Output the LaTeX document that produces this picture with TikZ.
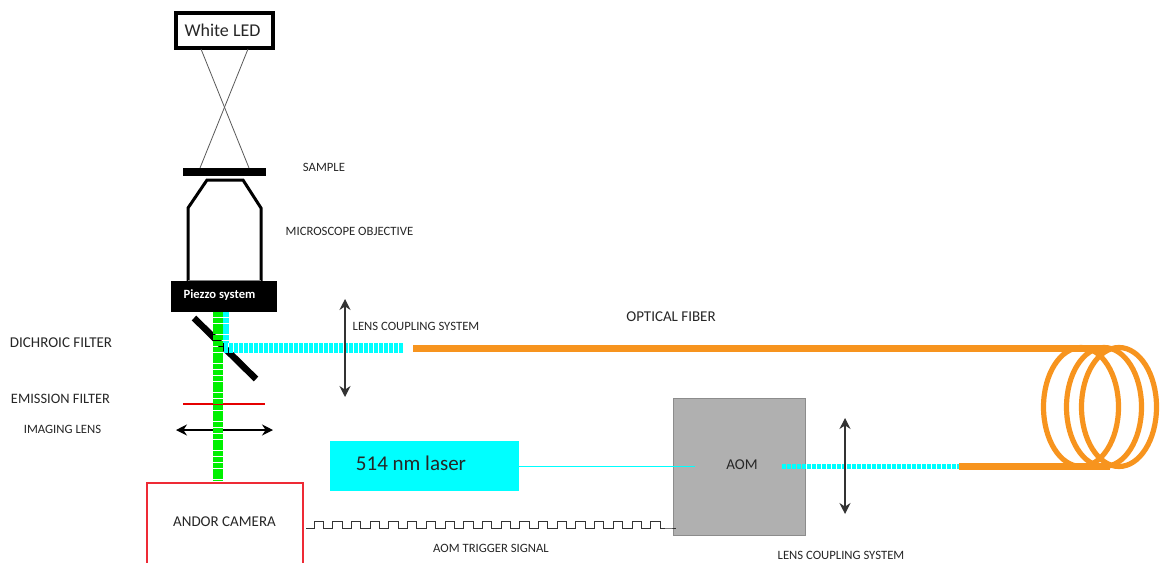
\documentclass[tikz,border=0pt]{standalone}
\usepackage{fontspec}
\setmainfont{Carlito}
\usepackage{xcolor}
\usetikzlibrary{arrows.meta,positioning}
\definecolor{fiberorange}{HTML}{F7941E}
\definecolor{beamcyan}{HTML}{00FFFF}
\definecolor{beamgreen}{HTML}{00F000}
\definecolor{camerared}{HTML}{EE2A35}
\definecolor{aomgray}{HTML}{B0B0B0}

\begin{document}
\begin{tikzpicture}[
  x=1pt, y=-1pt,
  tag/.style={text=black!85, inner sep=0pt, font=\fontsize{12.7}{14}\selectfont},
  bigtag/.style={tag, font=\fontsize{15}{17}\selectfont},
  solidbox/.style={fill=black, inner sep=0pt},
  greenbeam/.style={draw=beamgreen, line width=10pt, dash pattern=on 5pt off 0.8pt},
  cyanbeam/.style={draw=beamcyan, line width=10pt, dash pattern=on 3.9pt off 1.1pt},
  thinbeam/.style={draw=beamcyan, line width=5pt, dash pattern=on 3.9pt off 1.1pt},
  fiber/.style={draw=fiberorange, line width=7pt},
  coil/.style={draw=fiberorange, line width=5.2pt},
  lens/.style={{Stealth[length=11pt,width=11pt]}-{Stealth[length=11pt,width=11pt]}, line width=1.2pt, draw=black!80}
]
\clip (0,0) rectangle (1161,562);

% illumination
\node[draw, line width=3.5pt, minimum width=97pt, minimum height=35pt, inner sep=0pt, font=\fontsize{18}{20}\selectfont, text=black!85] (led) at (224.5,30.5) {\hspace*{-4pt}White LED};
\node[solidbox, minimum width=83pt, minimum height=8pt] (sample) at (224.5,172) {};
\coordinate (ledl) at (201,49);
\coordinate (ledr) at (248,49);
\coordinate (samplel) at (200,168);
\coordinate (sampler) at (249,168);
\draw[black!65, line width=0.8pt] (ledl) -- (sampler);
\draw[black!65, line width=0.8pt] (ledr) -- (samplel);

% objective and piezzo
\draw[line width=3pt, join=miter] (188,282) -- (188,208) -- (207,180) -- (243,180) -- (261,208) -- (261,282);
\draw[black!50, line width=0.8pt] (188,280) -- (261,280);
\node[solidbox, minimum width=106pt, minimum height=31pt, text=white, font=\bfseries\fontsize{12.6}{14}\selectfont] (piezzo) at (224,296.5) {\raisebox{5pt}{\hspace*{-9pt}Piezzo system}};

% filters and lens
\coordinate (mirrora) at (194,318);
\coordinate (mirrorb) at (256,379);
\draw[line width=6.5pt] (mirrora) -- (mirrorb);
\coordinate (redl) at (183,403.5);
\coordinate (redr) at (265,403.5);
\draw[draw=red!90!black, line width=2pt] (redl) -- (redr);
\coordinate (imagel) at (176,430);
\coordinate (imager) at (273,430);
\draw[lens, black] (imagel) -- (imager);

% camera, cut by the page edge
\node[draw=camerared, line width=1.4pt, minimum width=156pt, minimum height=96pt, inner sep=0pt] (camera) at (225,531) {};
\node[bigtag] (cameratext) at (224.5,522) {ANDOR CAMERA};

% beams in the microscope
\coordinate (greentop) at (218,312);
\coordinate (greenend) at (218,481);
\draw[greenbeam] (greentop) -- (greenend);
\coordinate (cyantop) at (226,312);
\coordinate (cyanturn) at (226,343);
\draw[draw=beamcyan, line width=6pt, dash pattern=on 5pt off 0.8pt] (cyantop) -- (cyanturn);
\coordinate (cyanstart) at (224,348);
\coordinate (cyanend) at (403,348);
\draw[cyanbeam] (cyanstart) -- (cyanend);

% coupling lens, upper
\coordinate (lensatop) at (345,299);
\coordinate (lensabot) at (345,397);
\draw[lens] (lensatop) -- (lensabot);

% laser and AOM
\node[fill=beamcyan, minimum width=189pt, minimum height=50pt, inner sep=0pt] (laser) at (424.5,466) {};
\node[inner sep=0pt, text=black!85, font=\fontsize{21}{23}\selectfont] (lasertext) at (411,463) {514 nm laser};
\node[draw=black!45, fill=aomgray, line width=0.8pt, minimum width=132pt, minimum height=137pt, inner sep=0pt] (aom) at (739,466.5) {};
\node[bigtag] (aomtext) at (742,465) {AOM};
\coordinate (aomin) at (695,466);
\coordinate (aomout) at (782,466);
\coordinate (fiberin) at (959,466);
\draw[beamcyan, line width=1pt] (laser) -- (aomin);
\draw[thinbeam] (aomout) -- (fiberin);
\coordinate (lensbtop) at (845,418);
\coordinate (lensbbot) at (845,514);
\draw[lens] (lensbtop) -- (lensbbot);

% fiber
\coordinate (fibertop) at (413,348);
\coordinate (fibertopend) at (1104,348);
\coordinate (fiberbotend) at (1110,466);
\draw[fiber] (fibertop) -- (fibertopend);
\draw[fiber] (fiberin) -- (fiberbotend);
\foreach \cx in {1081,1104,1119} {
  \draw[coil] (\cx,407) ellipse (37.5 and 59.5);
}

% trigger signal
\coordinate (trigstart) at (306,528);
\coordinate (trigend) at (676,528);
\draw[black!80, line width=0.8pt] (trigstart) -- ++(8,0)
  \foreach \i in {0,...,18} { -- ++(0,-7) -- ++(9.35,0) -- ++(0,7) -- ++(9.35,0) } -- (trigend);

% labels
\node[tag] (samplelabel) at (324,167) {SAMPLE};
\node[tag] (objlabel) at (349.5,231) {MICROSCOPE OBJECTIVE};
\node[bigtag] (dichroic) at (61,343) {DICHROIC FILTER};
\node[bigtag, font=\fontsize{14.4}{16}\selectfont] (emission) at (60.5,399) {EMISSION FILTER};
\node[tag] (imaging) at (62.5,429) {IMAGING LENS};
\node[tag] (lensa) at (416,326) {LENS COUPLING SYSTEM};
\node[bigtag] (fiberlabel) at (671,317) {OPTICAL FIBER};
\node[tag] (triglabel) at (491,548) {AOM TRIGGER SIGNAL};
\node[tag] (lensb) at (841,555) {LENS COUPLING SYSTEM};
\end{tikzpicture}
\end{document}
